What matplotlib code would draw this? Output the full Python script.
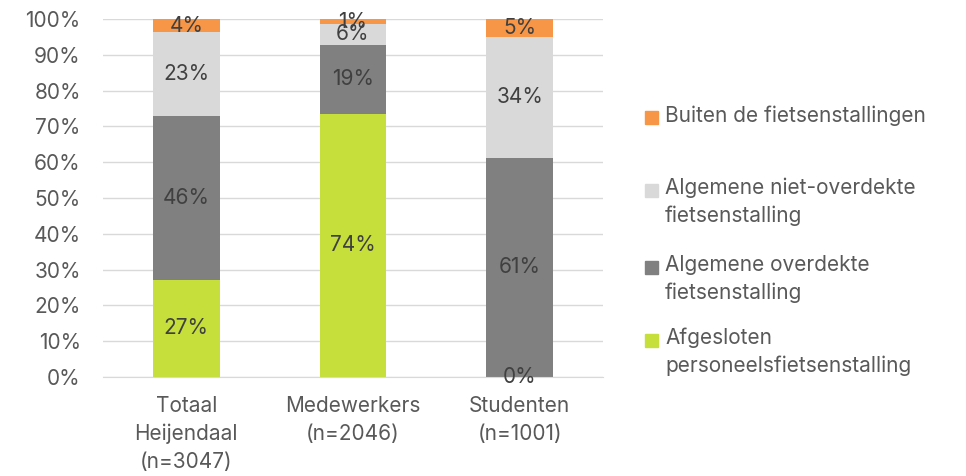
import matplotlib.pyplot as plt
from matplotlib.patches import Rectangle
from matplotlib.ticker import FuncFormatter

plt.rcParams['font.family'] = ['Inter', 'DejaVu Sans']

categories = ["Totaal\nHeijendaal\n(n=3047)", "Medewerkers\n(n=2046)", "Studenten\n(n=1001)"]
series_names = ["Afgesloten\npersoneelsfietsenstalling",
                "Algemene overdekte\nfietsenstalling",
                "Algemene niet-overdekte\nfietsenstalling",
                "Buiten de fietsenstallingen"]
afgesloten = [27.1, 73.5, 0.0]
overdekt = [45.8, 19.3, 61.2]
niet_overdekt = [23.4, 5.8, 33.8]
buiten = [3.7, 1.4, 5.0]
colors = ['#C6DF3A', '#808080', '#D9D9D9', '#F79646']

values = [afgesloten, overdekt, niet_overdekt, buiten]
fs = 15

fig = plt.figure(figsize=(9.66, 4.76), dpi=100)
ax = fig.add_axes([0.1066, 0.208, 0.5176, 0.752])

x = range(len(categories))
bottom = [0.0] * len(categories)
for vals, col in zip(values, colors):
    ax.bar(x, vals, bottom=bottom, width=0.4, color=col, zorder=2)
    for i, v in enumerate(vals):
        ax.text(i, bottom[i] + v / 2, f'{v:.0f}%', ha='center', va='center',
                fontsize=fs, color='#404040', zorder=3)
    bottom = [b + v for b, v in zip(bottom, vals)]

ax.set_xlim(-0.5, 2.5)
ax.set_ylim(0, 100)
ax.set_yticks(range(0, 101, 10))
ax.yaxis.set_major_formatter(FuncFormatter(lambda v, p: f'{v:.0f}%'))
ax.set_xticks(list(x))
ax.set_xticklabels(categories, linespacing=1.45)
ax.grid(axis='y', color='#D9D9D9', linewidth=1, zorder=0)
for s in ['top', 'right', 'left']:
    ax.spines[s].set_visible(False)
ax.spines['bottom'].set_color('#D9D9D9')
ax.tick_params(length=0, labelsize=fs, labelcolor='#595959')
ax.tick_params(axis='x', pad=14)
ax.tick_params(axis='y', pad=16)

# legend, drawn by hand so the square sits on the first text line
W, H = 966, 476
leg_y = [117, 190, 267, 340]
for name, col, yy in zip(series_names[::-1], colors[::-1], leg_y):
    fig.patches.append(Rectangle((645 / W, 1 - (yy + 6.5) / H), 13 / W, 13 / H,
                                 transform=fig.transFigure, color=col))
    fig.text(665 / W, 1 - (yy - 12) / H, name, ha='left', va='top',
             fontsize=fs, color='#595959', linespacing=1.45)

fig.savefig('out.png', dpi=100)
